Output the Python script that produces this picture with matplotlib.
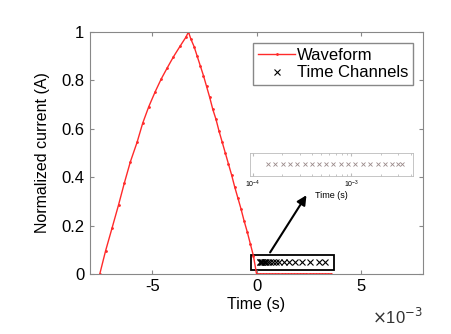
import matplotlib.pyplot as plt
from matplotlib.patches import Rectangle

plt.rcParams['font.family'] = ['Liberation Sans', 'DejaVu Sans']

# waveform (time in ms, normalized current)
t_on = [-7.53, -7.25, -6.94, -6.63, -6.35, -6.06, -5.74, -5.47, -5.18, -4.87,
        -4.58, -4.29, -3.99, -3.67, -3.40, -3.27]
i_on = [0.0, 0.096, 0.19, 0.285, 0.376, 0.464, 0.544, 0.623, 0.691, 0.753,
        0.806, 0.852, 0.898, 0.942, 0.978, 1.0]
t_off = [-3.15, -3.00, -2.85, -2.70, -2.55, -2.40, -2.25, -2.10, -1.95, -1.80,
         -1.65, -1.50, -1.35, -1.20, -1.05, -0.90, -0.75, -0.60, -0.45, -0.30,
         -0.15, 0.00]
i_off = [0.97, 0.94, 0.90, 0.86, 0.82, 0.775, 0.73, 0.68, 0.64, 0.59,
         0.545, 0.50, 0.455, 0.41, 0.36, 0.315, 0.27, 0.22, 0.175, 0.125,
         0.075, 0.0]
t_zero = [0.15, 0.30, 0.45, 0.60, 0.75, 0.90, 1.05, 1.20, 1.35, 1.50, 1.65,
          1.80, 1.95, 2.10, 2.25, 2.40, 2.55, 2.70, 2.85, 3.00, 3.15, 3.30,
          3.45, 3.60]

# time channels (s)
channels = [1.45e-4, 1.70e-4, 2.04e-4, 2.40e-4, 2.82e-4, 3.39e-4, 3.98e-4,
            4.68e-4, 5.62e-4, 6.61e-4, 7.94e-4, 9.33e-4, 1.10e-3, 1.32e-3,
            1.55e-3, 1.86e-3, 2.19e-3, 2.57e-3, 3.00e-3, 3.30e-3]
channel_level = 0.05

t = [v * 1e-3 for v in t_on + t_off + t_zero]
i = i_on + i_off + [0.0] * len(t_zero)

grey = '#888888'

fig = plt.figure(figsize=(4.51, 3.34), dpi=100)
ax = fig.add_axes([0.1996, 0.18, 0.7384, 0.724])
ax.plot(t, i, color='#ff2a2a', lw=1.0, marker='.', ms=2, label='Waveform')
ax.plot(channels, [channel_level] * len(channels), ls='none', marker='x',
        color='black', ms=4, mew=0.8, label='Time Channels')

ax.set_xlim(-8e-3, 8e-3)
ax.set_ylim(0, 1)
ax.set_xticks([-5e-3, 0, 5e-3])
ax.set_xticklabels(['-5', '0', '5'])
ax.set_yticks([0, 0.2, 0.4, 0.6, 0.8, 1.0])
ax.set_yticklabels(['0', '0.2', '0.4', '0.6', '0.8', '1'])
ax.tick_params(direction='in', top=True, right=True, labelsize=12,
               color=grey, length=3, pad=4)
for s in ax.spines.values():
    s.set_color(grey)
ax.set_xlabel('Time (s)', fontsize=11.5, labelpad=2)
ax.set_ylabel('Normalized current (A)', fontsize=11.5, labelpad=8)
fig.text(0.825, 0.03, r'$\times$10$^{-3}$', fontsize=12, color='#333333')

leg = ax.legend(loc='upper right', bbox_to_anchor=(0.97, 0.955), fontsize=12,
                fancybox=False, framealpha=1, edgecolor=grey,
                handlelength=2.2, borderpad=0.3, labelspacing=0.15,
                handletextpad=0.1, borderaxespad=0)

# zoom box and arrow
ax.add_patch(Rectangle((-0.25e-3, 0.017), 3.97e-3, 0.062, fill=False,
                       edgecolor='black', lw=1.3))
ax.annotate('', xy=(2.47e-3, 0.335), xytext=(0.58e-3, 0.079),
            arrowprops=dict(arrowstyle='-|>', color='black', lw=1.5,
                            mutation_scale=14))

# inset with log time axis
ins = fig.add_axes([0.554, 0.473, 0.361, 0.069])
ins.plot(channels, [1] * len(channels), ls='none', marker='x',
         color='#9a8a8a', ms=3.5, mew=0.6)
ins.set_xscale('log')
ins.set_xlim(9.4e-5, 4.2e-3)
ins.set_yticks([])
ins.set_xticks([1e-4, 1e-3])
ins.tick_params(which='both', direction='in', top=True, labelsize=5,
                color='#bbbbbb', length=2, pad=2)
ins.tick_params(which='minor', length=1.5)
for s in ins.spines.values():
    s.set_color('#bbbbbb')
    s.set_linewidth(0.6)
ins.set_xlabel('Time (s)', fontsize=6.5, labelpad=1)

fig.savefig('out.png', dpi=100)
